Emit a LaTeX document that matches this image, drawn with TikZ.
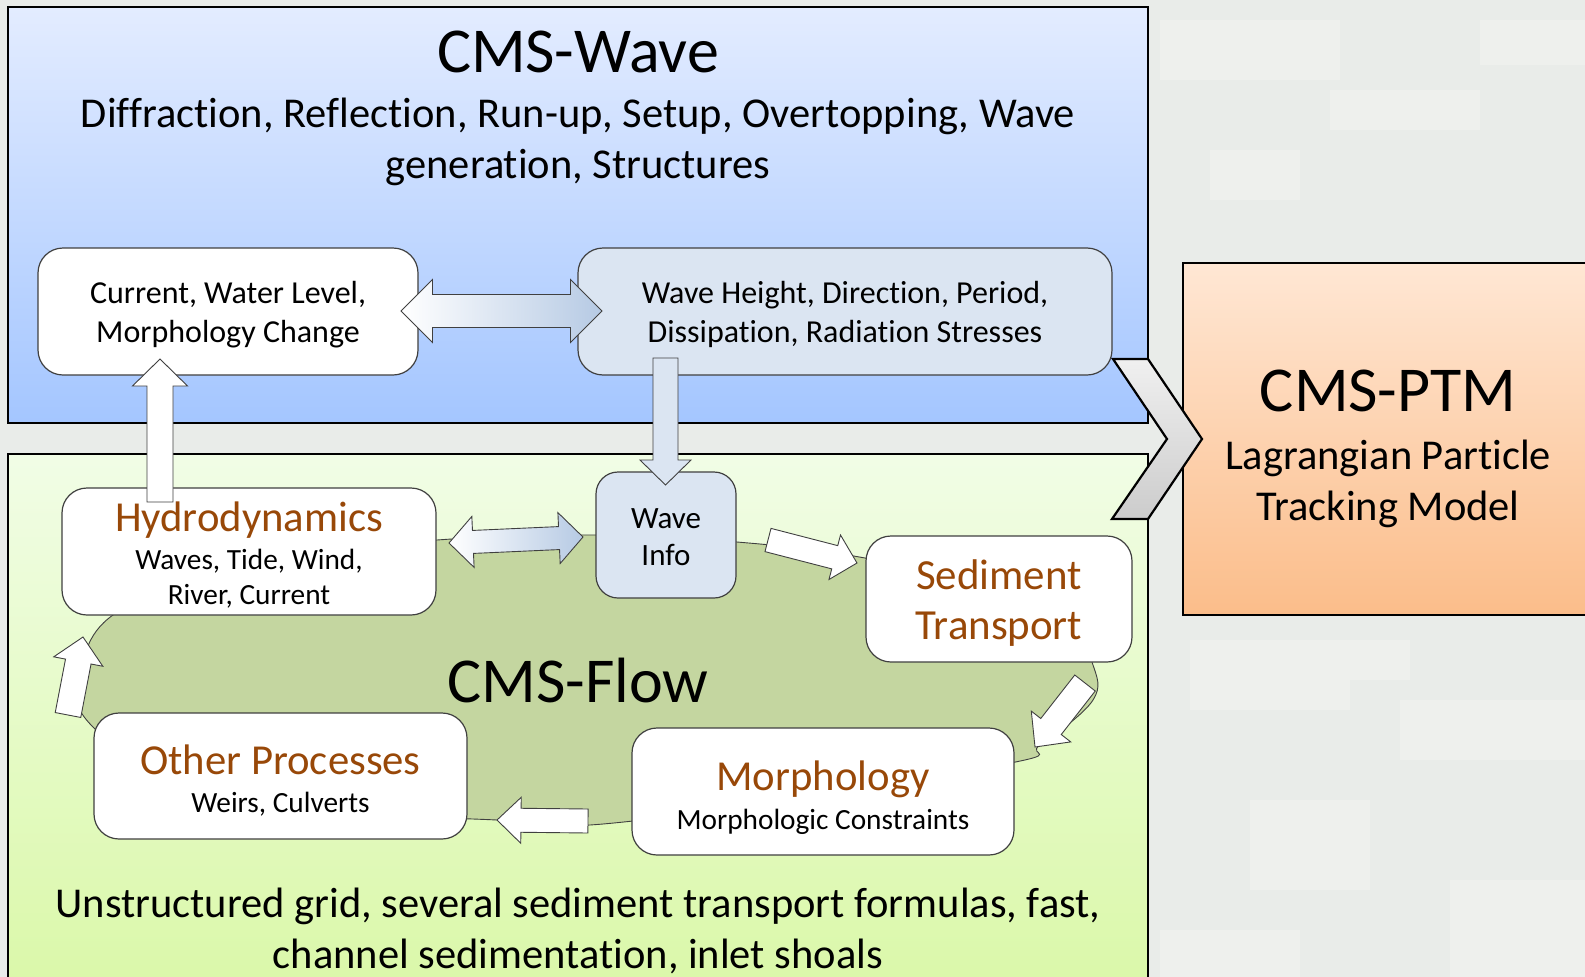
\documentclass[tikz,border=0pt]{standalone}
\usepackage{fontspec}
\setmainfont{Carlito}[Ligatures=NoCommon]
\usetikzlibrary{positioning,calc}
\definecolor{cmsBg}{RGB}{233,236,233}
\definecolor{cmsBgLight}{RGB}{238,240,237}
\definecolor{waveTop}{RGB}{227,236,255}
\definecolor{waveBot}{RGB}{164,198,255}
\definecolor{flowTop}{RGB}{241,253,230}
\definecolor{flowBot}{RGB}{218,248,168}
\definecolor{ptmTop}{RGB}{255,231,212}
\definecolor{ptmBot}{RGB}{251,189,138}
\definecolor{cmsBlob}{RGB}{196,214,160}
\definecolor{cmsBoxBlue}{RGB}{219,229,242}
\definecolor{cmsArrowBlue}{RGB}{182,202,228}
\definecolor{cmsOrange}{RGB}{152,72,8}
\definecolor{cmsEdge}{RGB}{64,64,64}

% orange box heading
\newcommand{\hdtext}[1]{{\fontsize{42.7}{46}\selectfont\color{cmsOrange}#1}}

% block arrow: [style]{tail}{tip}{shaft half width}{head half width}{head length}
\newcommand{\blkarr}[6][]{%
  \coordinate (hb) at ($(#3)!#6!(#2)$);
  \draw[blk,#1] ($(#2)!#4!90:(#3)$) -- ($(hb)!#4!-90:(#2)$) -- ($(hb)!#5!-90:(#2)$)
    -- (#3) -- ($(hb)!#5!90:(#2)$) -- ($(hb)!#4!90:(#2)$) -- ($(#2)!#4!-90:(#3)$) -- cycle;
}
% double block arrow, same arguments
\newcommand{\dblarr}[6][]{%
  \coordinate (ha) at ($(#2)!#6!(#3)$);
  \coordinate (hb) at ($(#3)!#6!(#2)$);
  \draw[blk,#1] (#2) -- ($(ha)!#5!-90:(#3)$) -- ($(ha)!#4!-90:(#3)$) -- ($(hb)!#4!90:(#2)$)
    -- ($(hb)!#5!90:(#2)$) -- (#3) -- ($(hb)!#5!-90:(#2)$) -- ($(hb)!#4!-90:(#2)$)
    -- ($(ha)!#4!90:(#3)$) -- ($(ha)!#5!90:(#3)$) -- cycle;
}

\begin{document}
\begin{tikzpicture}[x=1pt,y=-1pt,
    region/.style={draw=black, line width=2.2pt},
    box/.style={rounded corners=25pt, draw=cmsEdge, line width=1.2pt, fill=white},
    boxtxt/.style={align=center, inner sep=0pt, font=\fontsize{32}{38.5}\selectfont},
    subtxt/.style={boxtxt, font=\fontsize{29.3}{34.5}\selectfont},
    ttl/.style={font=\fontsize{64}{70}\selectfont},
    desc/.style={align=center, font=\fontsize{42.5}{51}\selectfont},
    blk/.style={draw=cmsEdge, line width=0.9pt, fill=white, line join=miter},
    shadearr/.style={left color=white, right color=cmsArrowBlue}
  ]
  \useasboundingbox (0,0) rectangle (1585,977);
  \fill[cmsBg] (0,0) rectangle (1585,977);
  % faint camouflage patches
  \foreach \x/\y/\w/\h in {1160/20/180/60, 1330/90/150/40, 1210/150/90/50, 1480/20/105/45,
                           1190/640/160/70, 1400/700/185/60, 1250/800/120/90, 1450/880/135/97,
                           1160/930/140/47, 1330/640/80/40}
    \fill[cmsBgLight] (\x,\y) rectangle ++(\w,\h);

  % the three model regions
  \draw[region, top color=waveTop, bottom color=waveBot] (8,7) rectangle (1148,423);
  \draw[region, top color=flowTop, bottom color=flowBot] (8,454) rectangle (1148,995);
  \draw[region, top color=ptmTop, bottom color=ptmBot] (1183,263) rectangle (1600,615);

  \node[ttl] (wavettl) at (578,52) {CMS-Wave};
  \node[desc] (wavedesc) at (578,142) {Diffraction, Reflection, Run-up, Setup, Overtopping, Wave\\generation, Structures};

  % CMS-Flow loop
  \draw[cmsEdge, line width=0.9pt, fill=cmsBlob] plot[smooth cycle, tension=0.6] coordinates {
    (437,540) (597,535) (737,542) (865,558) (1060,600) (1092,662) (1093,700)
    (1040,745) (1000,765) (633,821) (497,820) (200,800) (93,727) (80,680)
    (113,615) (250,560)};
  \node[ttl] (flowttl) at (578,680) {CMS-Flow};
  \node[desc] (flowdesc) at (578,931) {Unstructured grid, several sediment transport formulas, fast,\\channel sedimentation, inlet shoals};

  % CMS-Wave boxes
  \node[box, minimum width=380pt, minimum height=127pt] (cur) at (228,311.5) {};
  \node[boxtxt] (curtxt) at ([yshift=-3pt]cur.center) {Current, Water Level,\\Morphology Change};
  \node[box, fill=cmsBoxBlue, minimum width=534pt, minimum height=127pt] (wvh) at (845,311.5) {};
  \node[boxtxt] (wvhtxt) at ([yshift=-3pt]wvh.center) {Wave Height, Direction, Period,\\Dissipation, Radiation Stresses};

  % CMS-Flow boxes
  \node[box, minimum width=374pt, minimum height=127pt] (hyd) at (249,551.5) {};
  \node[subtxt] (hydtxt) at ([yshift=-3.5pt]hyd.center)
    {\hdtext{Hydrodynamics}\\[4pt]Waves, Tide, Wind,\\River, Current};
  \node[box, rounded corners=22pt, fill=cmsBoxBlue, minimum width=140pt, minimum height=126pt] (winfo) at (666,535) {};
  \node[boxtxt, font=\fontsize{31}{37.5}\selectfont] (winfotxt) at ([yshift=-2pt]winfo.center) {Wave\\Info};
  \node[box, minimum width=266pt, minimum height=126pt] (sed) at (999,599) {};
  \node[boxtxt, font=\fontsize{42.9}{50.5}\selectfont\color{cmsOrange}] (sedtxt) at ([yshift=-4pt]sed.center)
    {Sediment\\Transport};
  \node[box, minimum width=382pt, minimum height=127pt] (mor) at (823,791.5) {};
  \node[subtxt] (mortxt) at ([yshift=-6pt]mor.center) {\hdtext{Morphology}\\[4pt]Morphologic Constraints};
  \node[box, minimum width=373pt, minimum height=126pt] (oth) at (280.5,776) {};
  \node[subtxt] (othtxt) at ([yshift=-4.5pt]oth.center) {\hdtext{Other Processes}\\[4pt]Weirs, Culverts};

  % CMS-PTM
  \node[ttl] (ptmttl) at (1388,391) {CMS-PTM};
  \node[desc] (ptmdesc) at (1388,484) {Lagrangian Particle\\Tracking Model};

  % coupling chevron
  \draw[line width=2.2pt, top color=gray!12, bottom color=gray!40, line join=miter]
    (1113,359) -- (1148,359) -- (1202,439) -- (1148,519) -- (1112,519) -- (1167,439) -- cycle;

  % arrow ends
  \coordinate (curR) at (401,311);   \coordinate (wvhL) at (602,311);
  \coordinate (wvhB) at (665.5,358); \coordinate (winfoT) at (665.5,485);
  \coordinate (hydT) at (160,502);   \coordinate (curB) at (160,359);
  \coordinate (hydR) at (449,543);   \coordinate (winfoL) at (583,537);
  \coordinate (winfoR) at (768,540); \coordinate (sedL) at (857,563);
  \coordinate (sedB) at (1085,683);  \coordinate (morR) at (1035,747);
  \coordinate (morL) at (588,821);   \coordinate (othR) at (497,820);
  \coordinate (othT) at (68,715);    \coordinate (hydB) at (83,637);

  \dblarr[shadearr]{curR}{wvhL}{16.5pt}{31.5pt}{31.5pt}
  \blkarr[fill=cmsBoxBlue]{wvhB}{winfoT}{12.5pt}{25.5pt}{25pt}
  \blkarr{hydT}{curB}{13pt}{27.5pt}{27pt}
  \dblarr[shadearr]{hydR}{winfoL}{11.5pt}{25.5pt}{24pt}
  \blkarr{winfoR}{sedL}{12pt}{23pt}{23pt}
  \blkarr{sedB}{morR}{13pt}{25pt}{26pt}
  \blkarr{morL}{othR}{12pt}{23pt}{24pt}
  \blkarr{othT}{hydB}{13pt}{25pt}{25pt}
\end{tikzpicture}
\end{document}
